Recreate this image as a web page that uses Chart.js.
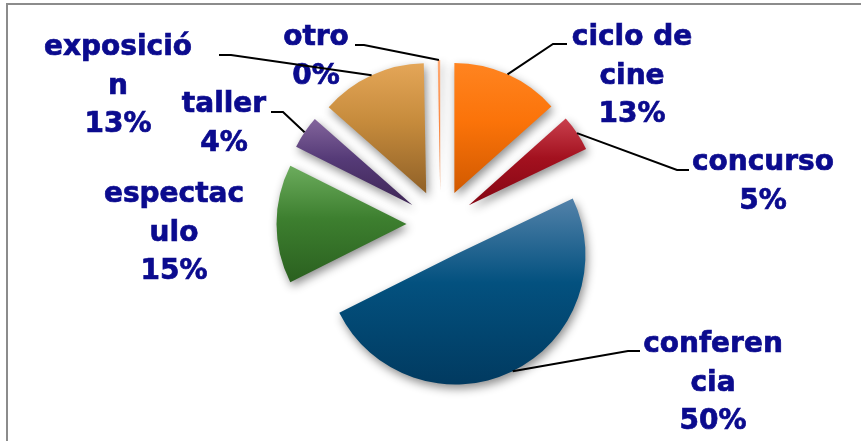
<!DOCTYPE html>
<html>
<head>
<meta charset="utf-8">
<script src="https://cdn.jsdelivr.net/npm/chart.js@4/dist/chart.umd.min.js"></script>
<style>
  html, body { margin: 0; padding: 0; background: #fff; }
  #wrap { width: 861px; height: 441px; position: relative; }
</style>
</head>
<body>
<div id="wrap"><canvas id="chart" width="861" height="441"></canvas></div>
<script>
// data, clockwise from 12 o'clock
const categories = ['ciclo de cine', 'concurso', 'conferencia', 'espectaculo', 'taller', 'exposición', 'otro'];
const values = [13.4, 4.5, 49.7, 14.8, 4.1, 13.2, 0.3];
// category text as it wraps in the picture
const wrappedNames = [['ciclo de', 'cine'], ['concurso'], ['conferen', 'cia'], ['espectac', 'ulo'], ['taller'], ['exposició', 'n'], ['otro']];

const topColors = ['#ff8420', '#c9404d', '#5382aa', '#6cac5d', '#83659c', '#e4a658', '#ffab75'];
const midColors = ['#fb7309', '#a3111f', '#03517f', '#3d7f2f', '#563b78', '#c68b3c', '#fa8a45'];
const bottomColors = ['#d05900', '#840512', '#013a60', '#2a5f1f', '#3d2555', '#8f6027', '#e8742c'];

const EXPLODE = 34;
const RADIUS = 130;
const LINE_HEIGHT = 38.5;
const TEXT_COLOR = '#0b0b8e';

// label block: centre x, first baseline, leader elbow + end
const labelPos = [
  {x: 632, y: 45, elbow: [553, 44], end: [567, 44]},
  {x: 763, y: 170, elbow: [677, 170], end: [689, 170]},
  {x: 713, y: 352, elbow: [628, 351], end: [640, 351]},
  {x: 174, y: 202},
  {x: 224, y: 112, elbow: [283, 112], end: [271, 112]},
  {x: 118, y: 55, elbow: [231, 55], end: [219, 55]},
  {x: 316, y: 45, elbow: [364, 45], end: [355, 45]}
];

const total = values.reduce((a, b) => a + b, 0);

// plain explode: move the whole slice along its mid angle, keep the radius
Chart.ArcElement.prototype.draw = function (ctx) {
  const {x, y, startAngle, endAngle, outerRadius} = this;
  if (endAngle - startAngle <= 0) {
    return;
  }
  const mid = (startAngle + endAngle) / 2;
  const d = this.options.offset || 0;
  const cx = x + Math.cos(mid) * d;
  const cy = y + Math.sin(mid) * d;

  ctx.save();
  ctx.beginPath();
  ctx.moveTo(cx, cy);
  ctx.arc(cx, cy, outerRadius, startAngle, endAngle);
  ctx.closePath();
  ctx.shadowColor = 'rgba(0, 0, 0, 0.45)';
  ctx.shadowBlur = 10;
  ctx.shadowOffsetX = 2;
  ctx.shadowOffsetY = 4;
  ctx.fillStyle = this.options.backgroundColor;
  ctx.fill();
  ctx.restore();
};

function sliceGradient(chart, i) {
  const area = chart.chartArea;
  if (!area) {
    return midColors[i];
  }
  const cx = (area.left + area.right) / 2;
  const cy = (area.top + area.bottom) / 2;
  const before = values.slice(0, i).reduce((a, b) => a + b, 0);
  const a0 = -Math.PI / 2 + 2 * Math.PI * before / total;
  const a1 = a0 + 2 * Math.PI * values[i] / total;
  const mid = (a0 + a1) / 2;
  const ax = cx + Math.cos(mid) * EXPLODE;
  const ay = cy + Math.sin(mid) * EXPLODE;

  let yMin = ay, yMax = ay;
  for (let k = 0; k <= 40; k++) {
    const a = a0 + (a1 - a0) * k / 40;
    const py = ay + Math.sin(a) * RADIUS;
    yMin = Math.min(yMin, py);
    yMax = Math.max(yMax, py);
  }
  const g = chart.ctx.createLinearGradient(0, yMin, 0, yMax + 1);
  g.addColorStop(0, topColors[i]);
  g.addColorStop(0.45, midColors[i]);
  g.addColorStop(1, bottomColors[i]);
  return g;
}

const frame = {
  id: 'frame',
  beforeDraw(chart) {
    const ctx = chart.ctx;
    ctx.save();
    ctx.strokeStyle = '#8c8c8c';
    ctx.lineWidth = 2;
    ctx.strokeRect(7, 4, 900, 500);
    ctx.restore();
  }
};

const outsideLabels = {
  id: 'outsideLabels',
  afterDatasetsDraw(chart) {
    const ctx = chart.ctx;
    const arcs = chart.getDatasetMeta(0).data;

    ctx.save();
    ctx.font = 'bold 28px "DejaVu Sans"';
    ctx.fillStyle = TEXT_COLOR;
    ctx.strokeStyle = TEXT_COLOR;
    ctx.lineWidth = 0.7;
    ctx.textAlign = 'center';
    ctx.textBaseline = 'alphabetic';
    arcs.forEach((arc, i) => {
      const pct = Math.round(values[i] / total * 100) + '%';
      const lines = wrappedNames[i].concat(pct);
      const pos = labelPos[i];
      lines.forEach((t, j) => {
        ctx.fillText(t, pos.x, pos.y + j * LINE_HEIGHT);
        ctx.strokeText(t, pos.x, pos.y + j * LINE_HEIGHT);
      });
    });

    ctx.strokeStyle = '#000';
    ctx.lineWidth = 2;
    arcs.forEach((arc, i) => {
      const pos = labelPos[i];
      if (!pos.elbow) {
        return;
      }
      const {x, y, startAngle, endAngle, outerRadius} = arc;
      const mid = (startAngle + endAngle) / 2;
      const r = outerRadius + (arc.options.offset || 0);
      ctx.beginPath();
      ctx.moveTo(x + Math.cos(mid) * r, y + Math.sin(mid) * r);
      ctx.lineTo(pos.elbow[0], pos.elbow[1]);
      ctx.lineTo(pos.end[0], pos.end[1]);
      ctx.stroke();
    });
    ctx.restore();
  }
};

new Chart(document.getElementById('chart').getContext('2d'), {
  type: 'pie',
  data: {
    labels: categories,
    datasets: [{
      data: values,
      backgroundColor: c => sliceGradient(c.chart, c.dataIndex),
      borderWidth: 0,
      offset: EXPLODE,
      hoverOffset: 0
    }]
  },
  options: {
    responsive: false,
    animation: false,
    events: [],
    radius: RADIUS,
    layout: {
      padding: {left: 20, right: 0, top: 7, bottom: 0}
    },
    plugins: {
      legend: {display: false},
      tooltip: {enabled: false}
    }
  },
  plugins: [frame, outsideLabels]
});
</script>
</body>
</html>
